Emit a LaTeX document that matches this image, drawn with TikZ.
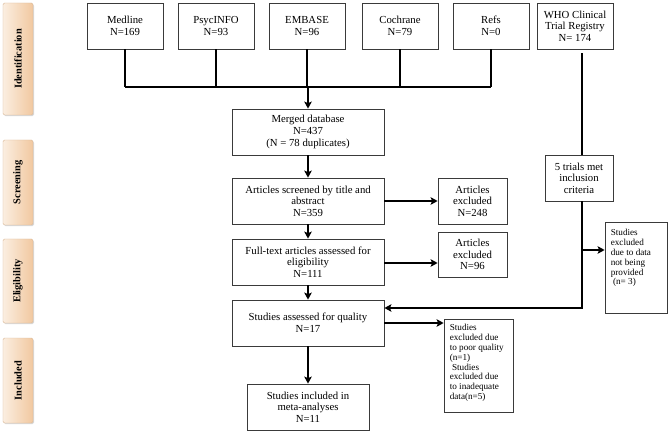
\documentclass[tikz,border=0pt]{standalone}
\usepackage{fontspec}
\setmainfont{Liberation Serif}
\usetikzlibrary{arrows.meta,shadows}
\definecolor{peachL}{HTML}{FBEEE0}
\definecolor{peachR}{HTML}{F1C8A0}
\definecolor{edgeC}{HTML}{3A3A3A}
\tikzset{
  box/.style={draw=edgeC, line width=0.8bp, fill=white, align=center, inner sep=1bp,
    font=\fontsize{10.8}{11.7}\selectfont,
    drop shadow={shadow xshift=1.2bp, shadow yshift=-1.2bp, opacity=0.35}},
  smallbox/.style={draw=edgeC, line width=0.8bp, fill=white, inner sep=0bp,
    drop shadow={shadow xshift=1.2bp, shadow yshift=-1.2bp, opacity=0.35}},
  smalltext/.style={align=left, inner sep=0bp, anchor=north west,
    font=\fontsize{9.2}{10}\selectfont},
  stage/.style={draw=peachR!80!gray, line width=0.4bp, rounded corners=1.5bp,
    left color=peachL, right color=peachR, minimum width=30bp,
    drop shadow={shadow xshift=1bp, shadow yshift=-1.2bp, opacity=0.3}},
  stagetext/.style={rotate=90, font=\bfseries\fontsize{10.4}{12}\selectfont},
  conn/.style={line width=1.5bp, black},
  arr/.style={conn, -{Stealth[length=7bp,width=7.5bp,inset=1.5bp]}},
}
\begin{document}
\begin{tikzpicture}[x=1bp,y=-1bp]
\useasboundingbox (0,0) rectangle (669,435);
% stage labels
\node[stage, minimum height=112bp] (sid) at (18,59) {};
\node[stagetext] (tid) at (sid.center) {Identification};
\node[stage, minimum height=85bp] (ssc) at (18,182.5) {};
\node[stagetext] (tsc) at (ssc.center) {Screening};
\node[stage, minimum height=84bp] (sel) at (18,281) {};
\node[stagetext] (tel) at (sel.center) {Eligibility};
\node[stage, minimum height=85bp] (sin) at (18,380.5) {};
\node[stagetext] (tin) at (sin.center) {Included};
% sources
\node[box, minimum width=76bp, minimum height=46bp] (med) at (125,26) {Medline\\N=169};
\node[box, minimum width=76bp, minimum height=46bp] (psy) at (216,26) {PsycINFO\\N=93};
\node[box, minimum width=76bp, minimum height=46bp] (emb) at (307,26) {EMBASE\\N=96};
\node[box, minimum width=76bp, minimum height=46bp] (coc) at (400,26) {Cochrane\\N=79};
\node[box, minimum width=76bp, minimum height=46bp] (ref) at (491,26) {Refs\\N=0};
\node[box, minimum width=76bp, minimum height=46bp] (who) at (575,26) {WHO Clinical\\Trial Registry\\N= 174};
% main flow
\node[box, minimum width=152bp, minimum height=46bp] (mer) at (308,132) {Merged database\\N=437\\(N = 78 duplicates)};
\node[box, minimum width=152bp, minimum height=46bp] (scr) at (308,201) {Articles screened by title and\\abstract\\N=359};
\node[box, minimum width=152bp, minimum height=46bp] (ful) at (308,262) {Full-text articles assessed for\\eligibility\\N=111};
\node[box, minimum width=152bp, minimum height=46bp] (ass) at (308,323) {Studies assessed for quality\\N=17};
\node[box, minimum width=122bp, minimum height=46bp] (inc) at (308,407) {Studies included in\\meta-analyses\\N=11};
% exclusions
\node[box, minimum width=69bp, minimum height=46bp] (ex1) at (472.5,201) {Articles\\excluded\\N=248};
\node[box, minimum width=69bp, minimum height=45bp] (ex2) at (472.5,254.5) {Articles\\excluded\\N=96};
\node[box, minimum width=68bp, minimum height=46bp] (tri) at (579,178) {5 trials met\\inclusion\\criteria};
\node[smallbox, minimum width=62bp, minimum height=91bp] (ex3) at (636,267.5) {};
\node[smalltext] (ex3t) at ([shift={(6,7)}]ex3.north west)
  {Studies\\excluded\\due to data\\not being\\provided\\\ (n= 3)};
\node[smallbox, minimum width=69bp, minimum height=93bp] (ex4) at (478.5,365.5) {};
\node[smalltext] (ex4t) at ([shift={(6,5)}]ex4.north west)
  {Studies\\excluded due\\to poor quality\\(n=1)\\\ Studies\\excluded due\\to inadequate\\data(n=5)};
% bus
\coordinate (busL) at (125,87);
\coordinate (busR) at (491,87);
\draw[conn] (med.south) -- (med.south |- busL);
\draw[conn] (psy.south) -- (psy.south |- busL);
\draw[conn] (emb.south) -- (emb.south |- busL);
\draw[conn] (coc.south) -- (coc.south |- busL);
\draw[conn] (ref.south) -- (ref.south |- busL);
\draw[conn] (busL) -- (busR);
\draw[arr] (mer.north |- busL) -- (mer.north);
\draw[arr] (mer) -- (scr);
\draw[arr] (scr) -- (ful);
\draw[arr] (ful) -- (ass);
\draw[arr] (ass) -- (inc);
\draw[arr] (scr.east) -- (ex1.west);
\draw[arr] (ful.east |- 0,263) -- (ex2.west |- 0,263);
\draw[arr] (ass.east |- 0,323) -- (ex4.west |- 0,323);
% WHO path
\coordinate (vx) at (582,0);
\coordinate (turn) at (582,308);
\coordinate (br) at (582,250);
\draw[conn] ([yshift=-4bp]who.south -| vx) -- (tri.north -| vx);
\draw[arr] (tri.south -| vx) -- (turn) -- (ass.east |- turn);
\draw[arr] (br) -- (ex3.west |- br);
\end{tikzpicture}
\end{document}
